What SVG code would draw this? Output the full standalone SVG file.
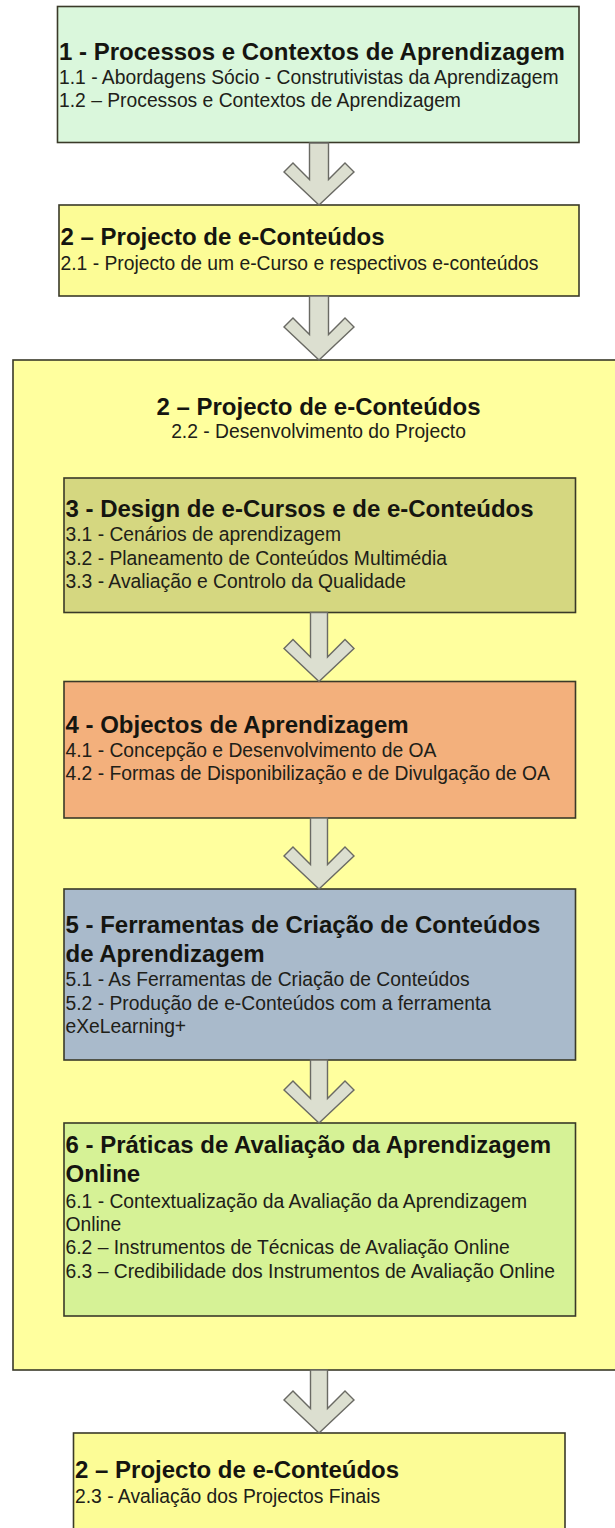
<svg xmlns="http://www.w3.org/2000/svg" width="615" height="1528" viewBox="0 0 615 1528">
<style>
  .box { stroke: #3a3a28; stroke-width: 1.6; }
  .t { font-family: "Liberation Sans", Arial, sans-serif; font-weight: bold; font-size: 24px; fill: #151510; }
  .s { font-family: "Liberation Sans", Arial, sans-serif; font-size: 19.3px; fill: #202018; }
  .arrow { fill: #dcdfd0; stroke: #6a6a64; stroke-width: 1.4; stroke-linejoin: miter; }
</style>
<rect width="615" height="1528" fill="#ffffff"/>

<g id="container">
  <rect class="box" x="13" y="360" width="612" height="1010" fill="#ffff9e"/>
  <text class="t" x="318.5" y="415" text-anchor="middle">2 – Projecto de e-Conteúdos</text>
  <text class="s" x="318.5" y="438" text-anchor="middle">2.2 - Desenvolvimento do Projecto</text>
</g>

<g id="node1">
  <rect class="box" x="57.5" y="6.5" width="521.5" height="136" fill="#daf7dc"/>
  <text class="t" x="59" y="60">1 - Processos e Contextos de Aprendizagem</text>
  <text class="s" x="59" y="83.5">1.1 - Abordagens Sócio - Construtivistas da Aprendizagem</text>
  <text class="s" x="59" y="106.5">1.2 – Processos e Contextos de Aprendizagem</text>
</g>

<g id="node2">
  <rect class="box" x="59" y="205" width="520" height="91" fill="#fcfc96"/>
  <text class="t" x="60.5" y="245">2 – Projecto de e-Conteúdos</text>
  <text class="s" x="60.5" y="270">2.1 - Projecto de um e-Curso e respectivos e-conteúdos</text>
</g>

<g id="node3">
  <rect class="box" x="64" y="478" width="511.5" height="134.5" fill="#d5d780"/>
  <text class="t" x="65.5" y="517">3 - Design de e-Cursos e de e-Conteúdos</text>
  <text class="s" x="65.5" y="541">3.1 - Cenários de aprendizagem</text>
  <text class="s" x="65.5" y="564.5">3.2 - Planeamento de Conteúdos Multimédia</text>
  <text class="s" x="65.5" y="588">3.3 - Avaliação e Controlo da Qualidade</text>
</g>

<g id="node4">
  <rect class="box" x="64" y="681.5" width="511.5" height="136.5" fill="#f3b07c"/>
  <text class="t" x="65.5" y="733">4 - Objectos de Aprendizagem</text>
  <text class="s" x="65.5" y="756.5">4.1 - Concepção e Desenvolvimento de OA</text>
  <text class="s" x="65.5" y="780">4.2 - Formas de Disponibilização e de Divulgação de OA</text>
</g>

<g id="node5">
  <rect class="box" x="64" y="889" width="511.5" height="171" fill="#a9bacb"/>
  <text class="t" x="65.5" y="933">5 - Ferramentas de Criação de Conteúdos</text>
  <text class="t" x="65.5" y="961.5">de Aprendizagem</text>
  <text class="s" x="65.5" y="986">5.1 - As Ferramentas de Criação de Conteúdos</text>
  <text class="s" x="65.5" y="1009.5">5.2 - Produção de e-Conteúdos com a ferramenta</text>
  <text class="s" x="65.5" y="1033">eXeLearning+</text>
</g>

<g id="node6">
  <rect class="box" x="64" y="1123" width="511.5" height="193" fill="#d6f296"/>
  <text class="t" x="65.5" y="1153">6 - Práticas de Avaliação da Aprendizagem</text>
  <text class="t" x="65.5" y="1181.5">Online</text>
  <text class="s" x="65.5" y="1207.5">6.1 - Contextualização da Avaliação da Aprendizagem</text>
  <text class="s" x="65.5" y="1231">Online</text>
  <text class="s" x="65.5" y="1254.3">6.2 – Instrumentos de Técnicas de Avaliação Online</text>
  <text class="s" x="65.5" y="1277.6">6.3 – Credibilidade dos Instrumentos de Avaliação Online</text>
</g>

<g id="node7">
  <rect class="box" x="73.5" y="1433" width="491.5" height="110" fill="#fcfc96"/>
  <text class="t" x="75" y="1478">2 – Projecto de e-Conteúdos</text>
  <text class="s" x="75" y="1503">2.3 - Avaliação dos Projectos Finais</text>
</g>

<g id="connectors">
  <!-- arrow 1: cx 319, top 143, tip 205, hw 9.5 -->
  <polygon class="arrow" points="309.5,143 309.5,179.5 293,163 284,172 319,205 354,172 345,163 328.5,179.5 328.5,143"/>
  <!-- arrow 2: top 296, tip 360 -->
  <polygon class="arrow" points="309.5,296 309.5,334.5 293,318 284,327 319,360 354,327 345,318 328.5,334.5 328.5,296"/>
  <!-- arrow 3: top 612.5, tip 681.5, hw 8.5 -->
  <polygon class="arrow" points="310.5,612.5 310.5,657 293,639.5 284,648.5 319,681.5 354,648.5 345,639.5 327.5,657 327.5,612.5"/>
  <!-- arrow 4: top 818, tip 889 -->
  <polygon class="arrow" points="310.5,818 310.5,864.5 293,847 284,856 319,889 354,856 345,847 327.5,864.5 327.5,818"/>
  <!-- arrow 5: top 1060, tip 1123 -->
  <polygon class="arrow" points="310.5,1060 310.5,1098.5 293,1081 284,1090 319,1123 354,1090 345,1081 327.5,1098.5 327.5,1060"/>
  <!-- arrow 6: top 1370, tip 1433 -->
  <polygon class="arrow" points="310.5,1370 310.5,1408.5 293,1391 284,1400 319,1433 354,1400 345,1391 327.5,1408.5 327.5,1370"/>
</g>
</svg>
